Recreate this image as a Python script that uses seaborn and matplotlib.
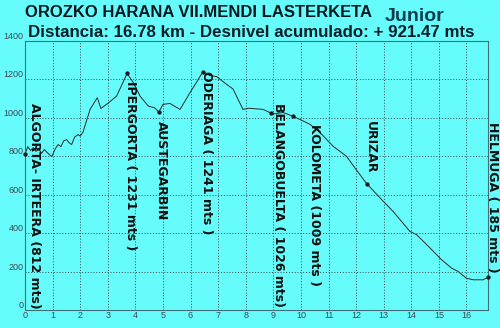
import matplotlib
matplotlib.use("Agg")
import matplotlib.pyplot as plt
import seaborn as sns
import pandas as pd

# ---- data ----
km = [0, 0.1, 0.2, 0.3, 0.4, 0.5, 0.6, 0.7, 0.8, 0.97, 1.1, 1.2, 1.3, 1.4, 1.51, 1.6, 1.69, 1.8,
      1.93, 2.0, 2.1, 2.36, 2.62, 2.75, 3.0, 3.32, 3.7, 3.92, 4.17, 4.47, 4.7, 4.85, 5.0, 5.25,
      5.62, 5.98, 6.28, 6.45, 6.7, 6.94, 7.3, 7.54, 7.9, 8.1, 8.63, 8.9, 9.0, 9.35, 9.7, 9.96,
      10.33, 10.69, 11.16, 11.65, 12.0, 12.38, 12.98, 13.34, 13.95, 14.19, 14.67, 15.1, 15.46,
      15.7, 16.0, 16.25, 16.6, 16.78]
elev = [812, 850, 830, 845, 825, 840, 815, 835, 820, 798, 840, 861, 850, 880, 887, 870, 861, 900,
        913, 905, 925, 1044, 1105, 1049, 1075, 1113, 1231, 1185, 1113, 1061, 1052, 1030, 1070, 1075,
        1044, 1131, 1200, 1241, 1220, 1215, 1175, 1150, 1044, 1050, 1044, 1026, 1020, 1028, 1009, 992,
        966, 924, 853, 800, 731, 658, 566, 513, 409, 392, 324, 261, 218,
        200, 165, 157, 157, 170]

point_names = ["ALGORTA- IRTEERA (812 mts)", "IPERGORTA ( 1231 mts )", "AUSTEGARBIN",
               "ODERIAGA ( 1241 mts )", "BELANGOBUELTA ( 1026 mts)", "KOLOMETA (1009 mts )",
               "URIZAR", "HELMUGA ( 185 mts )"]
point_km = [0, 3.7, 4.85, 6.45, 8.9, 9.7, 12.38, 16.78]
point_elev = [812, 1231, 1030, 1241, 1026, 1009, 658, 170]

x_ticks = list(range(0, 17))
y_ticks = [0, 200, 400, 600, 800, 1000, 1200, 1400]

title1 = "OROZKO HARANA VII.MENDI LASTERKETA"
title2 = "Distancia: 16.78 km - Desnivel acumulado: + 921.47 mts"
category = "Junior"

# label anchor placement (annotation layout)
label_x = [0.33, 3.84, 4.96, 6.56, 9.2, 10.5, 12.5, 16.96]
label_top = [1075, 1190, 981, 1242, 1075, 966, 981, 976]

# ---- style ----
sns.set_style("white")
plt.rcParams['font.family'] = ['Liberation Sans', 'DejaVu Sans']
bg = '#66fcfc'

fig = plt.figure(figsize=(5.0, 3.28), dpi=100, facecolor=bg)
ax = fig.add_axes([0.05, 0.055, 0.926, 0.82])
ax.set_facecolor(bg)

df = pd.DataFrame({"km": km, "elev": elev})
sns.lineplot(data=df, x="km", y="elev", ax=ax, color='#2a2a2a', linewidth=0.7)

pdf = pd.DataFrame({"km": point_km, "elev": point_elev})
sns.scatterplot(data=pdf, x="km", y="elev", ax=ax, color='#1a1a1a', s=8, edgecolor=None,
                zorder=5, clip_on=False)

for name, lx, ly in zip(point_names, label_x, label_top):
    ax.text(lx, ly, name, rotation=-90, ha='center', va='top', fontsize=9,
            fontweight='bold', color='#111111', clip_on=False, family='DejaVu Sans')

ax.set_xlim(0, 16.78)
ax.set_ylim(0, 1400)
ax.set_xticks(x_ticks)
ax.set_yticks(y_ticks)
ax.set_xlabel("")
ax.set_ylabel("")
ax.grid(True, color='#333333', linestyle=(0, (1.2, 2.2)), linewidth=0.6)
ax.tick_params(axis='both', length=0, labelsize=6.5, labelcolor='#3a4a55', pad=1)
for lbl in ax.get_yticklabels():
    lbl.set_va('bottom')
for s in ax.spines.values():
    s.set_color('#3f6f77')
    s.set_linewidth(0.8)

fig.text(0.05, 0.963, title1, fontsize=12, fontweight='bold', color='#0b1820',
         ha='left', va='center')
fig.text(0.77, 0.950, category, fontsize=14, fontweight='bold', color='#0f3d4f',
         ha='left', va='center')
fig.text(0.056, 0.902, title2, fontsize=12.2, fontweight='bold', color='#0b1f28',
         ha='left', va='center')

fig.savefig("out.png", dpi=100, facecolor=bg)
